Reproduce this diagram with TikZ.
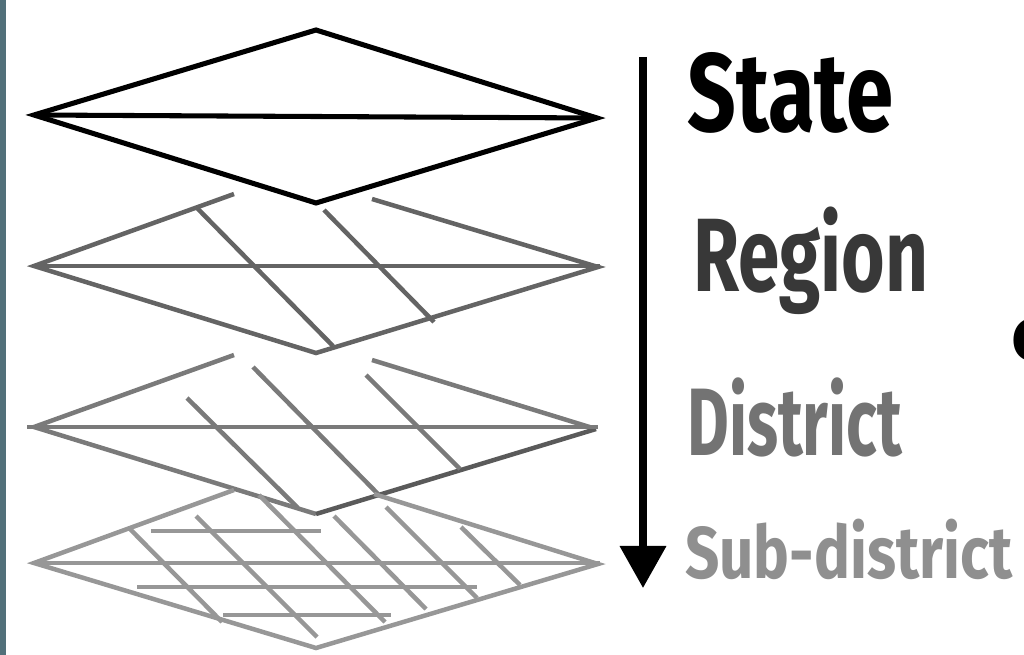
\documentclass[tikz,border=0pt]{standalone}
\usepackage{fontspec}
\newfontfamily\levelfont{Fira Sans}
\usetikzlibrary{arrows.meta}
\definecolor{slatebar}{HTML}{52707A}
\definecolor{regiongray}{HTML}{646464}
\definecolor{districtgray}{HTML}{7A7A7A}
\definecolor{subgray}{HTML}{979797}
\newcommand{\levelname}[3]{\resizebox{#1}{#2}{\levelfont\bfseries\smash{#3}\vphantom{S}}}
\begin{document}
\begin{tikzpicture}[x=0.025cm, y=-0.025cm,
  stateline/.style={line width=3.6pt, black},
  regionline/.style={line width=3.2pt, regiongray},
  districtline/.style={line width=3.2pt, districtgray},
  subline/.style={line width=3.2pt, subgray},
  lbl/.style={anchor=base west, inner sep=0pt}]
\useasboundingbox (0,0) rectangle (1024,655);
\fill[slatebar] (0,0) rectangle (6,655);

% Top layer: State
\draw[stateline] (34,115) -- (316,30) -- (597,118) -- (316,203) -- cycle;
\draw[stateline] (34,115) -- (597,118);

% Second layer: Region
\draw[regionline] (234,194) -- (34,266) -- (316,353) -- (598,267) -- (372,199);
\draw[regionline] (34,266) -- (600,266);
\draw[regionline] (197,208) -- (333,346);
\draw[regionline] (324,210) -- (434,322);

% Third layer: District
\draw[districtline] (234,355) -- (34,427) -- (316,514);
\draw[districtline] (372,360) -- (596,429);
\draw[districtline, regiongray!90!black] (596,429) -- (316,514);
\draw[districtline] (27,427) -- (598,427);
\draw[districtline] (187,398) -- (298,508);
\draw[districtline] (253,367) -- (378,494);
\draw[districtline] (366,375) -- (460,469);

% Bottom layer: Sub-district
\draw[subline] (234,490) -- (34,563) -- (316,648) -- (598,564) -- (374,494);
\draw[subline] (34,563) -- (600,563);
\draw[subline] (151,531) -- (321,531);
\draw[subline] (137,587) -- (477,587);
\draw[subline] (223,615) -- (391,615);
\draw[subline] (130,529) -- (222,622);
\draw[subline] (196,516) -- (317,637);
\draw[subline] (259,495) -- (385,622);
\draw[subline] (334,516) -- (426,609);
\draw[subline] (386,507) -- (477,598);
\draw[subline] (461,527) -- (520,585);

% Arrow and level names
\coordinate (arrowtop) at (643,57);
\coordinate (arrowtip) at (643,588);
\draw[line width=5pt, -{Triangle[width=1.125cm, length=1.05cm]}] (arrowtop) -- (arrowtip);
\node[lbl, text=black] (state) at (687,132) {\levelname{5.15cm}{1.975cm}{State}};
\node[lbl, text=black!78] (region) at (693,292) {\levelname{5.875cm}{1.85cm}{Region}};
\node[lbl, text=black!55] (district) at (687,455) {\levelname{5.375cm}{1.7cm}{District}};
\node[lbl, text=black!44] (subdistrict) at (685,578) {\levelname{8.175cm}{1.3cm}{Sub-district}};
\node[lbl, text=black] (cut) at (1011,360) {\resizebox{!}{1.05cm}{\levelfont\bfseries c}};
\end{tikzpicture}
\end{document}
